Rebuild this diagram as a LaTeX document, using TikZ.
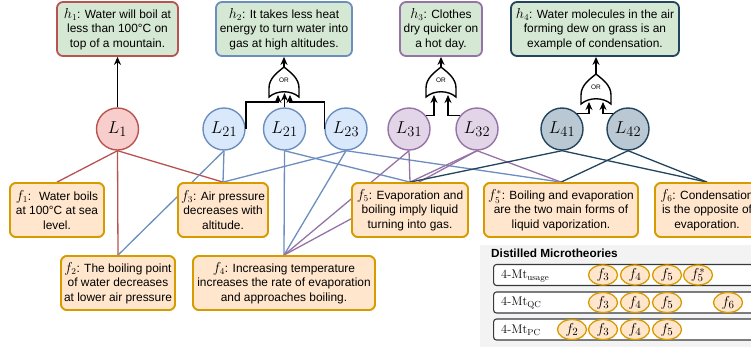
\documentclass[tikz,border=0pt]{standalone}
\usepackage{fontspec}
\setsansfont{Liberation Sans}
\usetikzlibrary{arrows.meta,shapes.geometric}
\definecolor{hfill}{HTML}{D5E8D4}
\definecolor{redb}{HTML}{B85450}
\definecolor{redf}{HTML}{F8CECC}
\definecolor{blueb}{HTML}{6C8EBF}
\definecolor{bluef}{HTML}{DAE8FC}
\definecolor{purpb}{HTML}{9673A6}
\definecolor{purpf}{HTML}{E1D5E7}
\definecolor{tealb}{HTML}{23445D}
\definecolor{tealf}{HTML}{BAC8D3}
\definecolor{factb}{HTML}{D79B00}
\definecolor{factf}{HTML}{FFE6CC}
\definecolor{panelf}{HTML}{F3F3F3}
\definecolor{rowb}{HTML}{36393D}
\newcommand\mv[1]{{\fontsize{13.5}{14}\selectfont$#1$}}
\begin{document}
\begin{tikzpicture}[x=1pt,y=-1pt,
  txt/.style={font=\sffamily\fontsize{11.9}{14.3}\selectfont, align=center},
  hyp/.style={txt, draw, fill=hfill, rounded corners=6pt, line width=1.8pt, minimum height=54pt, inner sep=0pt},
  fact/.style={txt, draw=factb, fill=factf, rounded corners=6pt, line width=1.8pt, minimum height=54pt, inner sep=0pt},
  lnode/.style={circle, draw, line width=1.4pt, minimum size=42pt, inner sep=0pt, font=\fontsize{19}{20}\selectfont},
  arr/.style={-{Stealth[length=8pt,width=7pt]}, line width=1.6pt, black},
  eR/.style={draw=redb, line width=1.3pt},
  eB/.style={draw=blueb, line width=1.3pt},
  eP/.style={draw=purpb, line width=1.3pt},
  eT/.style={draw=tealb, line width=1.3pt},
  mrow/.style={draw=rowb, fill=white, rounded corners=3pt, line width=1.1pt, minimum width=320pt, minimum height=21pt, anchor=west, inner sep=0pt},
  mlab/.style={anchor=west, font=\fontsize{12.5}{14}\selectfont, inner sep=0pt},
  fell/.style={ellipse, draw=factb, fill=factf, line width=1.3pt, minimum width=29pt, minimum height=20pt, inner sep=0pt, font=\fontsize{15}{15}\selectfont},
  orgate/.pic={
    \draw[line width=1.4pt, fill=white] (-15,0) .. controls (-7,-7) and (7,-7) .. (15,0) -- (15,-9)
      .. controls (15,-19) and (6,-25) .. (0,-30) .. controls (-6,-25) and (-15,-19) .. (-15,-9) -- cycle;
    \node[font=\sffamily\fontsize{6.5}{7}\selectfont, inner sep=0pt] at (0,-17) {OR};
  }
]
\useasboundingbox (0,0) rectangle (751,346);
\clip (0,0) rectangle (751,346);

% microtheory panel
\fill[panelf] (480,245) rectangle (760,350);

% hypotheses
\node[hyp, draw=redb, minimum width=121pt] (h1) at (117.5,29) {\mv{h_1}: Water will boil at\\less than 100°C on\\top of a mountain.};
\node[hyp, draw=blueb, minimum width=136pt] (h2) at (284,29) {\mv{h_2}: It takes less heat\\energy to turn water into\\gas at high altitudes.};
\node[hyp, draw=purpb, minimum width=82pt] (h3) at (441,29) {\mv{h_3}: Clothes\\dry quicker on\\a hot day.};
\node[hyp, draw=tealb, minimum width=168pt] (h4) at (595,29) {\mv{h_4}: Water molecules in the air\\forming dew on grass is an\\example of condensation.};

% L nodes
\node[lnode, draw=redb, fill=redf] (L1) at (117.5,129) {$L_1$};
\node[lnode, draw=blueb, fill=bluef] (L21a) at (224,129) {$L_{21}$};
\node[lnode, draw=blueb, fill=bluef] (L21b) at (284.5,129) {$L_{21}$};
\node[lnode, draw=blueb, fill=bluef] (L23) at (346,129) {$L_{23}$};
\node[lnode, draw=purpb, fill=purpf] (L31) at (409,129) {$L_{31}$};
\node[lnode, draw=purpb, fill=purpf] (L32) at (477,129) {$L_{32}$};
\node[lnode, draw=tealb, fill=tealf] (L41) at (562,129) {$L_{41}$};
\node[lnode, draw=tealb, fill=tealf] (L42) at (628,129) {$L_{42}$};

% facts (named, drawn first to give anchors)
\node[fact, minimum width=94pt] (f1) at (57,210) {};
\node[fact, minimum width=90pt] (f3) at (223,210) {};
\node[fact, minimum width=116pt] (f5) at (410,210) {};
\node[fact, minimum width=154pt] (f5s) at (561,210) {};
\node[fact, minimum width=104pt] (f6) at (707,210) {};
\node[fact, minimum width=114pt] (f2) at (118,283) {};
\node[fact, minimum width=182pt] (f4) at (284,283) {};

% connectors
\draw[eR] (L1.south) -- (f1.north);
\draw[eR] (L1.south) -- (f2.north);
\draw[eR] (L1.south) -- (f3.north);
\draw[eB] (L21a.south) -- (f2.north);
\draw[eB] (L21a.south) -- (f3.north);
\draw[eB] (L21b.south) -- (f4.north);
\draw[eB] (L21b.south) -- (f5.north);
\draw[eB] (L23.south) -- (f3.north);
\draw[eB] (L23.south) -- (f4.north);
\draw[eB] (L23.south) -- (f5s.north);
\draw[eP] (L31.south) -- (f4.north);
\draw[eP] (L31.south) -- (f5.north);
\draw[eP] (L32.south) -- (f4.north);
\draw[eP] (L32.south) -- (f5.north);
\draw[eP] (L32.south) -- (f5s.north);
\draw[eT] (L41.south) -- (f5.north);
\draw[eT] (L41.south) -- (f6.north);
\draw[eT] (L42.south) -- (f5s.north);
\draw[eT] (L42.south) -- (f6.north);

% fact boxes on top of connectors
\node[fact, minimum width=94pt] (f1t) at (f1) {\mv{f_1}:~ Water boils\\at 100°C at sea\\level.};
\node[fact, minimum width=90pt] (f3t) at (f3) {\mv{f_3}: Air pressure\\decreases with\\altitude.};
\node[fact, minimum width=116pt] (f5t) at (f5) {\mv{f_5}: Evaporation and\\boiling imply liquid\\turning into gas.};
\node[fact, minimum width=154pt] (f5st) at (f5s) {\mv{f_5^*}: Boiling and evaporation\\are the two main forms of\\liquid vaporization.};
\node[fact, minimum width=104pt] (f6t) at (f6) {\mv{f_6}: Condensation\\is the opposite of\\evaporation.};
\node[fact, minimum width=114pt] (f2t) at (f2) {\mv{f_2}: The boiling point\\of water decreases\\at lower air pressure};
\node[fact, minimum width=182pt] (f4t) at (f4) {\mv{f_4}: Increasing temperature\\increases the rate of evaporation\\and approaches boiling.};

% L1 -> h1
\draw[arr] (L1.north) -- (h1.south);

% OR gates
\pic at (284,97) {orgate};
\coordinate (g2top) at (284,67);
\coordinate (g2in1) at (278,95);
\coordinate (g2in2) at (284,93);
\coordinate (g2in3) at (290,95);
\draw[arr] (g2top) -- (g2top |- h2.south);
\draw[arr] (L21a.east) -- ++(0,-27) -| (g2in1);
\draw[arr] (L21b.north) -- (L21b.north |- g2in2);
\draw[arr] (L23.west) -- ++(0,-27) -| (g2in3);

\pic at (441,97) {orgate};
\coordinate (g3top) at (441,67);
\coordinate (g3in1) at (434,95);
\coordinate (g3in2) at (448,95);
\draw[arr] (g3top) -- (g3top |- h3.south);
\draw[arr] (L31.38) -| (g3in1);
\draw[arr] (L32.142) -| (g3in2);

\pic at (596,104) {orgate};
\coordinate (g4top) at (596,74);
\coordinate (g4in1) at (589,102);
\coordinate (g4in2) at (603,102);
\draw[arr] (g4top) -- (g4top |- h4.south);
\draw[arr] (L41.45) -| (g4in1);
\draw[arr] (L42.135) -| (g4in2);

% microtheories
\node[anchor=west, inner sep=0pt, font=\sffamily\bfseries\fontsize{11.8}{14}\selectfont] (title) at (491,253) {Distilled Microtheories};
\node[mrow] (r1) at (493,275) {};
\node[mrow] (r2) at (493,302.5) {};
\node[mrow] (r3) at (493,329.5) {};
\node[mlab] (m1) at (501,276) {4-Mt$_{\mathrm{usage}}$};
\node[mlab] (m2) at (501,303) {4-Mt$_{\mathrm{QC}}$};
\node[mlab] (m3) at (501,330) {4-Mt$_{\mathrm{PC}}$};
\node[fell] (a3) at (603,275) {$f_3$};
\node[fell] (a4) at (635,275) {$f_4$};
\node[fell] (a5) at (667,275) {$f_5$};
\node[fell] (a5s) at (698,275) {$f_5^*$};
\node[fell] (b3) at (603,302.5) {$f_3$};
\node[fell] (b4) at (635,302.5) {$f_4$};
\node[fell] (b5) at (667,302.5) {$f_5$};
\node[fell] (b6) at (728,302.5) {$f_6$};
\node[fell] (c2) at (572,329.5) {$f_2$};
\node[fell] (c3) at (603,329.5) {$f_3$};
\node[fell] (c4) at (635,329.5) {$f_4$};
\node[fell] (c5) at (667,329.5) {$f_5$};
\end{tikzpicture}
\end{document}
